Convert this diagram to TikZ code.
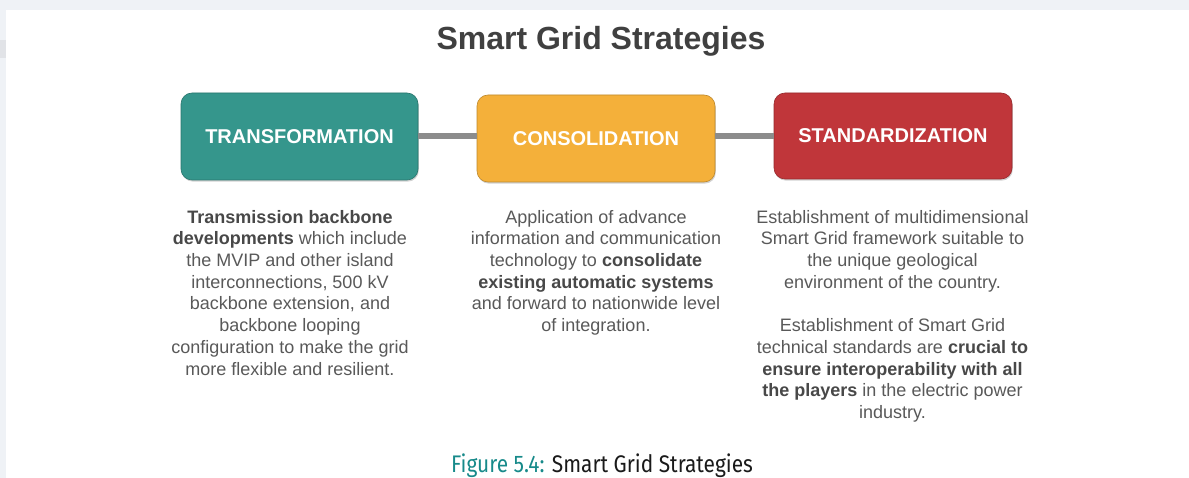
\documentclass[tikz,border=0pt]{standalone}
\usepackage{fontspec}
\setmainfont{Liberation Sans}
\newfontfamily\capfont[FakeStretch=0.87]{Fira Sans}
\usetikzlibrary{shadows}
\definecolor{bgGray}{HTML}{EFF2F6}
\definecolor{bgBand}{HTML}{E1E3E7}
\definecolor{tealBox}{HTML}{35968C}
\definecolor{amberBox}{HTML}{F4B03A}
\definecolor{redBox}{HTML}{C0363A}
\definecolor{linkGray}{HTML}{8C8C8C}
\definecolor{titleC}{HTML}{404040}
\definecolor{bodyC}{HTML}{595959}
\definecolor{boldC}{HTML}{484848}
\definecolor{capTeal}{HTML}{178A8A}
\definecolor{capDark}{HTML}{1A1A1A}
\begin{document}
\begin{tikzpicture}[x=1pt,y=-1pt,
  stagebox/.style={rounded corners=11pt, draw=#1!78!black, line width=0.6pt, fill=#1,
    drop shadow={shadow xshift=0.8pt, shadow yshift=-1.6pt, opacity=0.35},
    text=white, font=\fontsize{20}{22}\selectfont\bfseries, inner sep=0pt},
  linkline/.style={draw=linkGray, line width=6pt},
  bodytext/.style={anchor=north, align=center, inner sep=0pt, text=bodyC,
    font=\fontsize{18}{21.7}\selectfont},
  titletext/.style={anchor=base, inner sep=0pt, text=titleC, font=\fontsize{32}{36}\selectfont\bfseries},
  captext/.style={anchor=base, inner sep=0pt, font=\fontsize{24}{28}\selectfont\capfont}
]
\useasboundingbox (0,0) rectangle (1189,478);
% background
\fill[bgGray] (0,0) rectangle (1189,478);
\fill[bgBand] (0,40) rectangle (6,58);
\fill[white] (6,10) rectangle (1189,478);

% title
\node[titletext] (title) at (601,50) {Smart Grid Strategies};

% stage boxes
\node[stagebox=tealBox, minimum width=237pt, minimum height=87pt] (trans) at (299.5,136.5) {TRANSFORMATION};
\node[stagebox=amberBox, minimum width=238pt, minimum height=87pt] (cons) at (596,138.5) {CONSOLIDATION};
\node[stagebox=redBox, minimum width=238pt, minimum height=86pt] (stand) at (893,136) {STANDARDIZATION};

% connectors
\coordinate (l1a) at (trans.east |- 0,136);
\coordinate (l1b) at (cons.west |- 0,136);
\coordinate (l2a) at (cons.east |- 0,136);
\coordinate (l2b) at (stand.west |- 0,136);
\draw[linkline] (l1a) -- (l1b);
\draw[linkline] (l2a) -- (l2b);

% descriptions
\node[bodytext] (d1) at (290,207.8) {\strut\textbf{\color{boldC}Transmission backbone}\\
\textbf{\color{boldC}developments} which include\\
the MVIP and other island\\
interconnections, 500 kV\\
backbone extension, and\\
backbone looping\\
configuration to make the grid\\
more flexible and resilient.};

\node[bodytext] (d2) at (596,207.8) {\strut Application of advance\\
information and communication\\
technology to \textbf{\color{boldC}consolidate}\\
\textbf{\color{boldC}existing automatic systems}\\
and forward to nationwide level\\
of integration.};

\node[bodytext] (d3) at (892.5,207.8) {\strut Establishment of multidimensional\\
Smart Grid framework suitable to\\
the unique geological\\
environment of the country.\\[21.7pt]
Establishment of Smart Grid\\
technical standards are \textbf{\color{boldC}crucial to}\\
\textbf{\color{boldC}ensure interoperability with all}\\
\textbf{\color{boldC}the players} in the electric power\\
industry.};

% caption
\node[captext] (cap) at (602,472.5) {\color{capTeal}Figure 5.4: \color{capDark}Smart Grid Strategies};
\end{tikzpicture}
\end{document}
